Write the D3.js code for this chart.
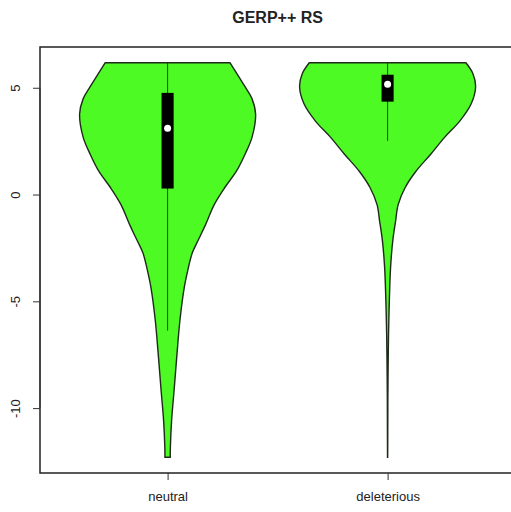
<!DOCTYPE html>
<html>
<head>
<meta charset="utf-8">
<script src="https://cdn.jsdelivr.net/npm/d3@7"></script>
<style>
	body { margin: 0; background: #fff; }
	text { font-family: "Liberation Sans", Arial, sans-serif; fill: #222; }
</style>
</head>
<body>
<div id="chart"></div>
<script>
//categories and tick labels
var groups = ["neutral", "deleterious"];
var yTicks = [-10, -5, 0, 5];

//violin outline: score and relative density
var neutralY = [6.17, 5.05, 4.48, 3.77, 2.69, 1.89, 1.08, 0.33, -0.47, -1.42, -2.12, -2.74, -3.54, -4.34, -5.9, -7.45, -9.06, -10.61, -11.79, -12.3];
var neutralD = [0.71, 0.88, 0.96, 1.0, 0.96, 0.88, 0.78, 0.65, 0.53, 0.43, 0.35, 0.28, 0.23, 0.19, 0.14, 0.107, 0.076, 0.045, 0.032, 0.03];

var delY = [6.17, 5.66, 5.05, 4.25, 3.44, 2.69, 1.89, 1.08, 0.33, -0.47, -1.27, -2.12, -3.4, -4.95, -6.5, -8.1, -9.67, -11.08, -12.3];
var delD = [0.89, 0.97, 1.0, 0.95, 0.82, 0.65, 0.49, 0.32, 0.2, 0.12, 0.09, 0.06, 0.034, 0.02, 0.011, 0.006, 0.003, 0.002, 0.001];

//box stats: lower whisker, q1, median, q3, upper whisker
var neutralBox = [-6.37, 0.28, 3.11, 4.76, 6.17];
var delBox = [2.51, 4.35, 5.16, 5.61, 6.17];

var yMin = -12.3, yMax = 6.17;

!function() {
	var width = 511,
		height = 512,
		left = 40,
		top = 47,
		bottom = 473;

	var svg = d3.select("#chart").append("svg")
		.attr("width", width)
		.attr("height", height);

	//R style scales with 4% padding
	var pad = (yMax - yMin) * 0.04;
	var y = d3.scaleLinear().domain([yMin - pad, yMax + pad]).range([bottom, top]);
	var x = d3.scaleLinear().domain([0.42, 2.58]).range([left, left + 2.16 * 220]);

	var violins = [
		{ at: 1, ys: neutralY, ds: neutralD, box: neutralBox },
		{ at: 2, ys: delY, ds: delD, box: delBox }
	];

	violins.forEach(function(v) {
		var pts = v.ys.map(function(d, i) { return [d, v.ds[i]]; });

		var area = d3.area()
			.y(function(p) { return y(p[0]); })
			.x0(function(p) { return x(v.at - 0.4 * p[1]); })
			.x1(function(p) { return x(v.at + 0.4 * p[1]); })
			.curve(d3.curveCatmullRom);

		svg.append("path")
			.attr("d", area(pts))
			.attr("fill", "#4dfa23")
			.attr("stroke", "#1e2a1a")
			.attr("stroke-width", 1.4);

		//whiskers
		svg.append("line")
			.attr("x1", x(v.at)).attr("x2", x(v.at))
			.attr("y1", y(v.box[0])).attr("y2", y(v.box[4]))
			.attr("stroke", "#333")
			.attr("stroke-width", 1);

		//box
		svg.append("rect")
			.attr("x", x(v.at - 0.0275))
			.attr("width", x(v.at + 0.0275) - x(v.at - 0.0275))
			.attr("y", y(v.box[3]))
			.attr("height", y(v.box[1]) - y(v.box[3]))
			.attr("fill", "#000");

		//median
		svg.append("circle")
			.attr("cx", x(v.at))
			.attr("cy", y(v.box[2]))
			.attr("r", 3.5)
			.attr("fill", "#fff");
	});

	//frame
	svg.append("rect")
		.attr("x", left).attr("y", top)
		.attr("width", x(2.58) - left)
		.attr("height", bottom - top)
		.attr("fill", "none")
		.attr("stroke", "#222")
		.attr("stroke-width", 1.5);

	//y axis, labels rotated like R's default las=0
	var yAxis = svg.append("g")
		.attr("transform", "translate(" + left + ",0)")
		.call(d3.axisLeft(y).tickValues(yTicks).tickSize(7).tickFormat(function(d) { return d < 0 ? "-" + (-d) : d; }));
	yAxis.select(".domain").remove();
	yAxis.selectAll("line").attr("stroke", "#333");
	yAxis.selectAll("text")
		.attr("font-size", 13)
		.attr("x", 0)
		.attr("y", 0)
		.attr("dy", 0)
		.attr("text-anchor", "middle")
		.attr("transform", "translate(-20,0) rotate(-90)");
	yAxis.append("line")
		.attr("x1", 0).attr("x2", 0)
		.attr("y1", y(-10)).attr("y2", y(5))
		.attr("stroke", "#333");

	//x axis
	var xAxis = svg.append("g")
		.attr("transform", "translate(0," + bottom + ")")
		.call(d3.axisBottom(x).tickValues([1, 2]).tickSize(7).tickFormat(function(d) { return groups[d - 1]; }));
	xAxis.select(".domain").remove();
	xAxis.selectAll("line").attr("stroke", "#333");
	xAxis.selectAll("text")
		.attr("font-size", 13)
		.attr("y", 19);

	//title
	svg.append("text")
		.attr("x", (left + x(2.58)) / 2)
		.attr("y", 23)
		.attr("text-anchor", "middle")
		.attr("font-size", 16)
		.attr("font-weight", "bold")
		.text("GERP++ RS");
}();
</script>
</body>
</html>
